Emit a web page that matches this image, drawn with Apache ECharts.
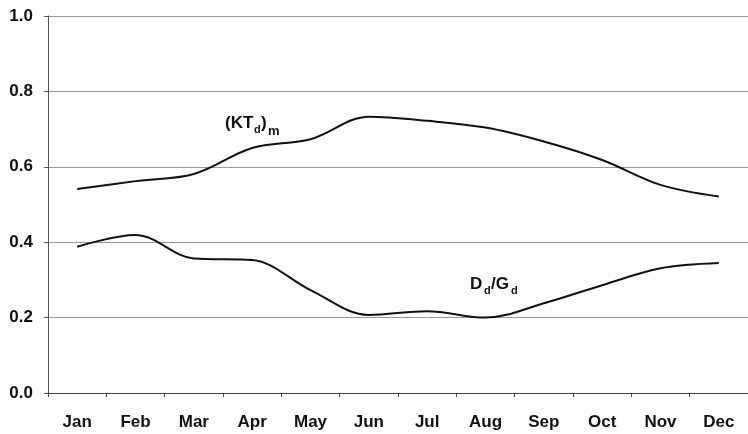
<!DOCTYPE html>
<html>
<head>
<meta charset="utf-8">
<script src="https://cdn.jsdelivr.net/npm/echarts@6/dist/echarts.min.js"></script>
<style>
  html, body { margin: 0; padding: 0; background: #fff; }
  #chart { width: 748px; height: 434px; }
</style>
</head>
<body>
<div id="chart"></div>
<script>
// monthly values
const months = ["Jan", "Feb", "Mar", "Apr", "May", "Jun", "Jul", "Aug", "Sep", "Oct", "Nov", "Dec"];
const ktdMean = [0.541, 0.562, 0.581, 0.65, 0.673, 0.733, 0.722, 0.704, 0.667, 0.618, 0.552, 0.521];
const ddOverGd = [0.388, 0.419, 0.357, 0.353, 0.273, 0.207, 0.217, 0.2, 0.238, 0.286, 0.331, 0.345];

const FONT = "Liberation Sans, Arial, sans-serif";

// small helper for the in-plot labels (main text + lowered subscripts)
function txt(x, y, s, size) {
  return {
    type: "text",
    x: x,
    y: y,
    style: {
      text: s,
      fontFamily: FONT,
      fontWeight: "bold",
      fontSize: size,
      fill: "#111",
      verticalAlign: "middle",
      align: "left"
    }
  };
}

const chart = echarts.init(document.getElementById("chart"));

const option = {
  animation: false,
  grid: { left: 48, right: 0, top: 16, bottom: 41 },
  xAxis: {
    type: "category",
    data: months,
    boundaryGap: true,
    axisLine: { lineStyle: { color: "#444", width: 1 } },
    axisTick: { show: true, length: 4, lineStyle: { color: "#444" } },
    axisLabel: {
      color: "#111",
      fontFamily: FONT,
      fontWeight: "bold",
      fontSize: 17,
      margin: 21
    },
    splitLine: { show: false }
  },
  yAxis: {
    type: "value",
    min: 0,
    max: 1,
    interval: 0.2,
    axisLine: { show: true, lineStyle: { color: "#555", width: 1 } },
    axisTick: { show: true, length: 4, lineStyle: { color: "#555" } },
    axisLabel: {
      color: "#111",
      fontFamily: FONT,
      fontWeight: "bold",
      fontSize: 17,
      margin: 15,
      formatter: v => v.toFixed(1)
    },
    splitLine: { show: true, lineStyle: { color: "#999", width: 1 } }
  },
  series: [
    {
      name: "(KTd)m",
      type: "line",
      data: ktdMean,
      smooth: 0.35,
      showSymbol: false,
      lineStyle: { color: "#111", width: 2 }
    },
    {
      name: "Dd/Gd",
      type: "line",
      data: ddOverGd,
      smooth: 0.35,
      showSymbol: false,
      lineStyle: { color: "#111", width: 2 }
    }
  ],
  graphic: [
    txt(225, 123, "(KT", 17),
    txt(254, 130, "d", 11),
    txt(261, 123, ")", 17),
    txt(268, 131, "m", 13),
    txt(470, 284, "D", 17),
    txt(484, 291, "d", 11),
    txt(491, 284, "/G", 17),
    txt(511, 291, "d", 11)
  ]
};

chart.setOption(option);
</script>
</body>
</html>
